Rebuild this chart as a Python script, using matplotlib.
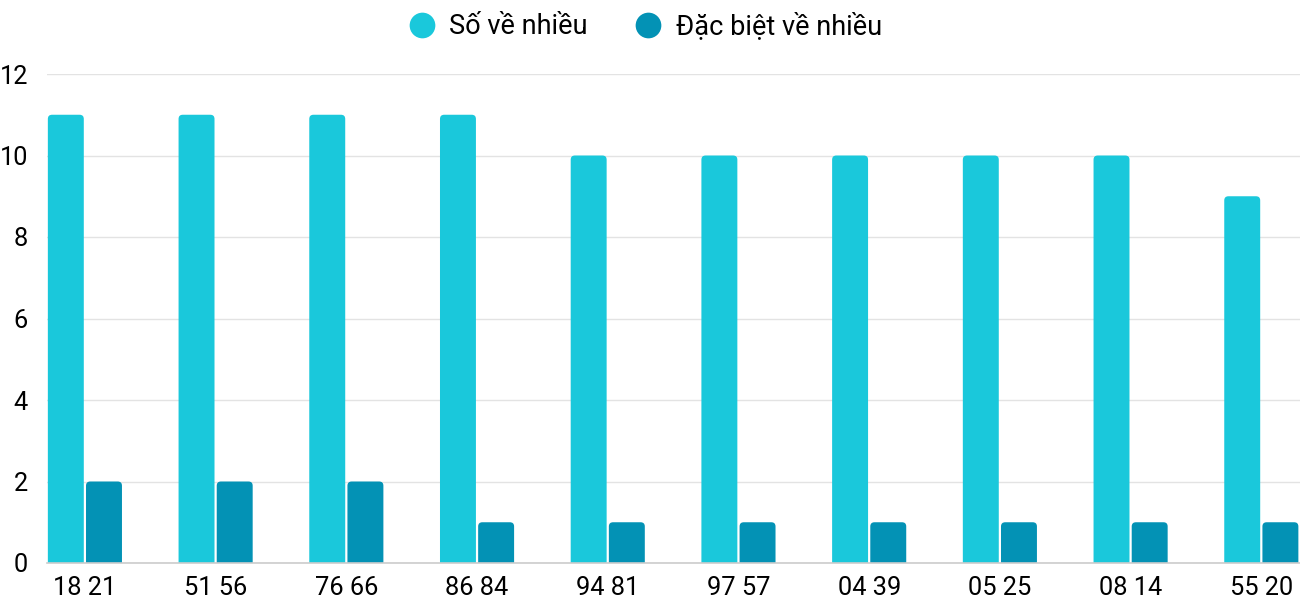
import matplotlib
matplotlib.use("Agg")
import matplotlib.pyplot as plt
from matplotlib.patches import FancyBboxPatch
from matplotlib.lines import Line2D
import numpy as np

categories = ["18 21", "51 56", "76 66", "86 84", "94 81", "97 57", "04 39", "05 25", "08 14", "55 20"]
so_ve_nhieu = [11, 11, 11, 11, 10, 10, 10, 10, 10, 9]
dac_biet = [2, 2, 2, 1, 1, 1, 1, 1, 1, 1]
series_names = ["Số về nhiều", "Đặc biệt về nhiều"]
colors = ["#1AC8DB", "#0392B5"]

plt.rcParams['font.family'] = ['Roboto', 'DejaVu Sans']

fig = plt.figure(figsize=(13, 6), dpi=100)
ax = fig.add_axes([47/1300, 37/600, (1300-47)/1300, (563-74)/600])

x = np.arange(len(categories))
w = 0.275
off = 0.146
b1 = ax.bar(x - off, so_ve_nhieu, width=w, color=colors[0], zorder=3)
b2 = ax.bar(x + off, dac_biet, width=w, color=colors[1], zorder=3)

ax.set_xlim(-0.29, len(categories) - 1 + 0.296)
ax.set_ylim(0, 12)

# rounded top corners
rx = 0.032
aspect = (130.7 / 40.75)
for bars in (b1, b2):
    for r in bars:
        r.set_visible(False)
        bx, by = r.get_x(), r.get_y()
        bw, bh = r.get_width(), r.get_height()
        p = FancyBboxPatch((bx, by - 0.3), bw, bh + 0.3,
                           boxstyle=f"round,pad=0,rounding_size={rx}",
                           mutation_aspect=aspect,
                           facecolor=r.get_facecolor(), edgecolor='none',
                           zorder=3, clip_on=True)
        ax.add_patch(p)

ax.set_yticks(range(0, 13, 2))
ax.set_xticks(x)
ax.set_xticklabels(categories)
ax.tick_params(axis='both', length=0, labelsize=18.3, colors='#000000')
ax.tick_params(axis='y', pad=13.7)
ax.tick_params(axis='x', pad=9.5)
ax.grid(axis='y', color='#e3e3e3', linewidth=1, zorder=0)
for s in ['top', 'right', 'left']:
    ax.spines[s].set_visible(False)
ax.spines['bottom'].set_color('#cccccc')
ax.spines['bottom'].set_linewidth(1.2)
ax.spines['bottom'].set_zorder(4)

handles = [Line2D([], [], linestyle='none', marker='o', markersize=18.5,
                  markerfacecolor=c, markeredgecolor='none') for c in colors]
fig.legend(handles, series_names, loc='upper center', bbox_to_anchor=(0.4962, 1.02),
           ncol=2, frameon=False, fontsize=19.5, handletextpad=0.52,
           columnspacing=1.74, handlelength=1.0, borderpad=0.4)

fig.savefig("out.png", dpi=100)
